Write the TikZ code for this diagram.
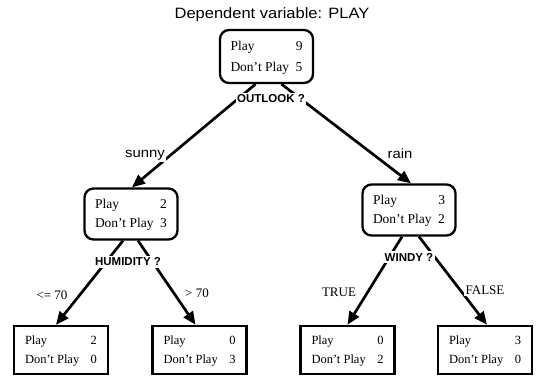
\documentclass[tikz,border=0pt]{standalone}
\usepackage{fontspec}
\setmainfont{Liberation Serif}
\setsansfont{Liberation Sans}
\usetikzlibrary{arrows.meta,calc}

% two-row count table: Play / Don't Play
\newcommand\tally[3]{{\renewcommand\arraystretch{#1}%
  \begin{tabular*}{72pt}{@{}l@{\extracolsep{\fill}}r@{}}Play & #2\\ Don't Play & #3\end{tabular*}}}

\tikzset{
  splitbox/.style={draw, line width=2.3pt, rounded corners=9pt, fill=white,
    minimum width=93pt, minimum height=51pt, inner sep=0pt,
    font=\fontsize{13.5}{14}\selectfont},
  leafbox/.style={draw, line width=2.5pt, fill=white,
    minimum width=94pt, minimum height=48pt, inner sep=0pt,
    font=\fontsize{12.5}{13}\selectfont},
  edge/.style={line width=2.7pt, -{Triangle[length=13pt,width=11pt]}},
  question/.style={fill=white, inner sep=1.5pt,
    font=\sffamily\bfseries\fontsize{11.5}{13}\selectfont},
  branch/.style={fill=white, inner sep=1.5pt, xscale=1.1,
    font=\sffamily\fontsize{13.5}{16}\selectfont},
  cond/.style={fill=white, inner sep=1.5pt,
    font=\fontsize{13}{15}\selectfont},
}

\begin{document}
\begin{tikzpicture}[x=1pt, y=-1pt]
  \fill[white] (0,0) rectangle (536,376);
  \useasboundingbox (0,0) rectangle (536,376);

  \node[xscale=1.1, font=\sffamily\fontsize{15}{17}\selectfont] (title) at (272,15) {Dependent variable: PLAY};

  % tree nodes
  \node[splitbox, minimum height=53pt] (root) at (266.5,56.5) {\tally{1.5}{9}{5}};
  \node[splitbox] (midL) at (131,214) {\tally{1.35}{2}{3}};
  \node[splitbox] (midR) at (409,210) {\tally{1.35}{3}{2}};
  \node[leafbox] (LL) at (61,350)    {\tally{1.45}{2}{0}};
  \node[leafbox] (LR) at (199.5,350) {\tally{1.45}{0}{3}};
  \node[leafbox] (RL) at (347.5,350) {\tally{1.45}{0}{2}};
  \node[leafbox] (RR) at (485,350)   {\tally{1.45}{3}{0}};

  % branches
  \draw[edge] ($(root.south)+(-11,0)$) -- ($(midL.north)+(1,0)$);
  \draw[edge] ($(root.south)+(15,0)$) -- ($(midR.north)+(2,0)$);
  \draw[edge] ($(midL.south)+(-8,0)$) -- ($(LL.north)+(-5,0)$);
  \draw[edge] ($(midL.south)+(7,0)$) -- ($(LR.north)+(-4,0)$);
  \draw[edge] ($(midR.south)+(-7,0)$) -- (RL.north);
  \draw[edge] ($(midR.south)+(10,0)$) -- ($(RR.north)+(2,0)$);

  % split questions
  \node[question] (q1) at (271,99)  {OUTLOOK ?};
  \node[question] (q2) at (128,262) {HUMIDITY ?};
  \node[question] (q3) at (409,257) {WINDY ?};

  % branch values
  \node[branch] (b1) at (145,155) {sunny};
  \node[branch] (b2) at (400,154) {rain};
  \node[cond] (c1) at (52,295)  {<= 70};
  \node[cond] (c2) at (197,293) {> 70};
  \node[cond] (c3) at (339,292) {TRUE};
  \node[cond] (c4) at (485,290) {FALSE};
\end{tikzpicture}
\end{document}
